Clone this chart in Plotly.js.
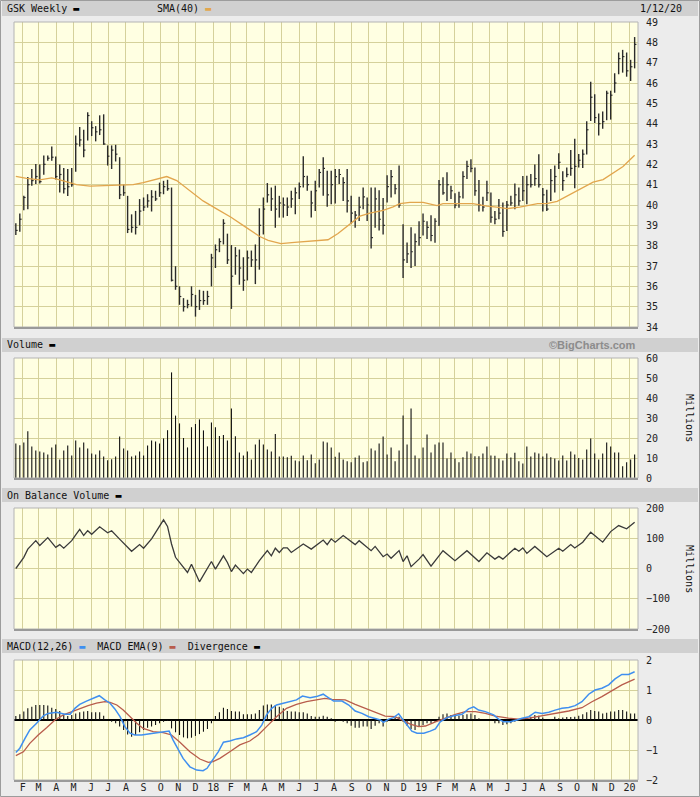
<!DOCTYPE html>
<html><head><meta charset="utf-8">
<script src="https://cdn.plot.ly/plotly-3.0.1.min.js"></script>
<style>html,body{margin:0;padding:0;background:#ececec;}#chart{width:700px;height:797px;}</style>
</head><body><div id="chart"></div>
<script>
// ---- data (weekly bars, Fridays starting 2017-01-20) ----
const firstWeek = '2017-01-20';
const high = [39.10,39.58,40.45,41.38,41.77,42.02,41.99,42.43,42.43,42.88,
42.38,41.99,41.82,41.77,41.82,43.42,43.84,43.70,44.56,44.12,
43.88,44.41,44.46,42.93,42.93,42.96,42.35,41.00,40.45,39.54,
39.71,40.29,40.37,40.53,40.73,40.70,41.10,41.19,41.24,40.86,
36.99,36.00,35.42,35.34,36.00,35.58,35.83,35.78,35.78,37.60,
38.06,38.36,39.30,38.59,38.03,37.93,37.81,37.43,37.76,37.76,
38.06,39.84,40.37,41.08,40.86,40.95,40.45,40.37,40.37,40.70,
40.86,41.11,42.40,41.44,40.70,41.19,41.77,42.35,41.69,41.69,
41.77,41.77,41.36,41.77,40.45,39.71,40.40,40.86,40.37,40.86,
40.86,40.73,40.34,41.46,41.72,41.03,41.94,39.05,38.15,38.90,
38.60,39.20,39.58,39.20,39.50,39.35,41.23,41.36,41.61,40.95,
40.58,40.65,41.66,42.18,42.25,41.85,41.23,40.40,41.19,40.62,
39.71,40.29,40.12,40.20,40.45,41.06,40.86,41.43,41.44,41.52,
41.99,42.50,40.83,40.75,41.77,41.94,42.55,41.66,41.85,42.71,
43.26,42.51,42.73,44.12,46.06,45.45,44.50,44.60,45.62,45.62,
46.48,47.50,47.63,47.50,47.14,48.26];
const low = [38.52,38.69,39.74,39.79,40.95,41.03,41.06,41.49,42.18,42.18,
41.26,40.62,40.57,40.44,40.90,41.64,42.88,42.35,43.17,43.39,
43.13,43.44,42.96,41.94,41.77,42.14,40.29,40.45,38.62,38.64,
38.55,39.00,39.71,39.87,39.68,40.20,40.40,40.53,40.70,36.24,
35.83,35.09,34.76,34.92,35.01,34.51,34.84,35.09,35.09,36.00,
36.90,37.68,38.06,37.10,34.89,36.57,36.08,35.78,36.29,36.95,
36.11,36.82,38.55,40.12,39.71,38.88,39.38,39.38,39.46,39.87,
39.54,40.29,40.86,40.70,39.38,39.71,40.86,40.45,39.91,40.04,
40.07,41.03,40.20,39.63,39.08,38.88,39.21,39.79,39.21,37.86,
38.88,38.75,38.55,40.12,40.37,40.53,39.87,36.41,37.15,36.90,
37.00,38.00,38.50,38.33,38.22,38.14,38.97,40.50,40.20,40.29,
39.84,39.87,40.32,41.28,41.61,40.45,39.68,39.68,40.20,39.13,
39.05,39.30,38.44,38.72,39.96,39.79,39.96,40.20,40.04,40.86,
40.95,40.86,39.68,39.71,40.20,40.62,41.77,40.70,41.36,41.44,
40.82,41.85,41.82,42.48,44.13,44.03,43.42,43.75,44.17,44.20,
45.52,46.43,46.51,46.31,46.10,46.72];
const close = [38.75,39.30,40.37,41.00,41.20,41.40,41.15,42.00,42.30,42.35,
41.40,41.50,40.80,40.90,41.00,43.00,43.20,42.70,44.40,43.80,
43.60,43.70,43.00,42.40,42.70,42.50,40.50,40.60,38.80,38.90,
38.90,39.70,39.90,40.20,40.40,40.30,40.60,40.90,40.80,36.30,
36.00,35.50,35.00,35.10,35.60,35.00,35.30,35.30,35.50,37.40,
37.80,38.20,39.10,37.30,36.50,37.50,36.90,36.30,37.40,37.30,
37.30,39.00,39.80,40.50,40.30,39.80,40.10,40.00,39.90,40.30,
40.60,40.90,41.40,41.00,40.10,40.70,41.60,41.80,40.50,41.00,
41.40,41.50,41.10,40.20,39.60,39.50,39.90,40.40,40.00,38.40,
40.30,39.30,39.00,40.90,41.40,40.80,40.00,37.30,37.60,37.70,
38.20,38.40,39.20,38.90,38.50,39.20,41.00,40.60,41.00,40.70,
40.00,40.40,41.40,41.90,41.80,40.70,40.00,39.90,40.60,39.40,
39.30,39.60,38.70,40.00,40.10,40.50,40.20,40.70,41.00,41.00,
41.30,41.00,40.50,39.80,41.20,41.40,42.10,41.20,41.50,41.80,
41.90,42.20,42.50,43.70,45.30,44.30,44.00,44.10,45.50,45.40,
46.00,47.20,47.30,46.60,46.80,47.90];
const volume = [17.3,16.4,17.8,23.4,15.8,13.8,13.2,12.8,11.8,15.2,
16.8,9.3,13.7,16.2,11.3,18.7,15.2,17.7,14.7,12.3,
11.8,13.7,10.8,8.9,9.4,10.8,20.7,14.7,13.7,10.8,
11.3,13.3,11.3,16.3,18.7,18.2,17.3,19.8,23.9,52.8,
31.2,27.3,20.0,15.3,25.4,27.0,29.3,23.8,15.8,27.8,
25.4,21.0,21.5,18.8,34.8,20.9,12.7,11.3,13.3,9.3,
16.7,19.2,16.8,14.3,13.2,22.0,10.8,10.8,10.4,11.1,
8.7,8.4,11.3,8.9,11.8,7.4,9.3,18.2,17.7,15.2,
10.6,12.7,9.3,8.4,7.9,10.2,11.3,7.9,8.4,14.7,
13.8,17.2,20.7,11.8,15.2,8.4,13.8,31.3,16.8,34.8,
11.3,9.8,15.2,21.7,12.7,16.8,17.7,17.7,9.8,12.7,
9.8,7.9,10.4,13.2,12.2,10.9,10.9,12.2,15.7,11.3,
11.1,9.8,8.8,12.2,10.2,12.6,8.4,7.3,15.7,10.8,
12.7,12.3,10.8,12.2,10.4,9.8,8.8,11.3,8.8,13.2,
11.8,10.0,9.3,14.3,19.7,12.3,9.3,12.2,17.7,15.7,
12.7,12.7,5.9,7.9,9.3,11.8];
const smaWeek = [0,2.7,6,9,11,15.2,18.6,22.7,26.1,29.4,31.9,35.3,37.8,40.3,43.6,46.9,50.4,53.9,57.3,61.1,63.2,66.4,69.8,73.2,78.2,80.7,83.2,86.2,88.7,92,94.5,96.2,98.7,102,105.5,107,111.2,114.5,118,120.5,123,126.2,130.7,133,135.6,138.8,142.1,144.6,147.1,149.6,152.1,155];
const smaValue = [41.41,41.31,41.24,41.33,41.23,41.0,40.93,40.96,41.0,41.0,41.1,41.29,41.4,41.2,40.7,40.2,39.8,39.4,38.95,38.45,38.26,38.1,38.16,38.22,38.29,38.6,39.0,39.45,39.6,39.74,39.91,40.07,40.13,40.13,39.97,40.07,40.07,40.07,39.94,39.9,39.82,39.9,40.07,40.07,40.18,40.51,40.84,41.12,41.25,41.55,41.89,42.45];
const obvWeek = [0,2,3,5,6,8,10,11,12,14,15,16,17,18,19,21,23,24,26,28,29,31,32,34,37,38,39,40,43,44,46,49,50,52,53,54,55,57,58,59,61,63,64,65,66,67,68,69,72,74,77,78,79,80,82,85,86,89,90,92,93,94,96,97,98,99,100,101,102,104,107,110,113,116,118,120,121,122,125,126,127,128,130,133,136,137,139,140,142,144,147,149,151,153,155];
const obvValue = [0,37,64,92,76,102,70,79,67,92,111,129,109,125,113,138,118,125,97,70,57,79,67,98,161,139,81,37,-13,14,-44,23,-2,42,20,-10,11,-17,-2,-13,26,59,42,67,53,68,68,53,81,64,94,79,98,87,109,79,92,59,73,39,48,34,59,23,42,6,17,31,46,8,59,26,59,23,52,31,40,31,67,57,68,50,73,39,67,57,79,68,87,120,87,122,142,131,153];
const macdWeek = [0,1,2.3,3.5,5.2,6.9,8.1,10.2,12.3,13.6,14.8,16,17.7,19.4,20.9,22.3,23.6,24.8,26.1,27.3,28.6,29.8,31.5,33.6,35.7,37.8,38.4,39.4,40.7,41.9,43.6,45.3,46.9,47.9,49,50.7,52,53.6,55.3,57,58.6,60.3,61.6,62.8,64.1,65.3,67,68.7,70.3,71.8,73.7,75.3,77,77.9,79.6,81.7,83.4,85,86.7,88.4,90,91.3,92.1,93.4,94.6,95.9,96.7,98,99.2,100.5,102.2,103.8,105.1,106.3,108,109.7,111.8,113.4,114.7,115.9,117.6,119.7,120.9,122.2,123.9,125.5,126.8,128.5,130.1,131.8,133.5,135.1,136.8,138.5,140.1,141.8,143.5,145.1,146.8,148.5,150.1,151.8,153.5,155];
const macdValue = [-1.08,-0.94,-0.61,-0.33,-0.11,0.14,0.22,0.26,0.19,0.19,0.39,0.52,0.63,0.74,0.81,0.67,0.56,0.37,0.11,-0.22,-0.44,-0.5,-0.5,-0.46,-0.41,-0.37,-0.37,-0.67,-1.0,-1.28,-1.56,-1.67,-1.69,-1.61,-1.39,-1.06,-0.74,-0.7,-0.63,-0.59,-0.5,-0.39,-0.17,0.17,0.39,0.5,0.56,0.61,0.67,0.8,0.74,0.78,0.86,0.78,0.63,0.63,0.5,0.3,0.22,0.11,0.06,0,-0.08,0.03,0.08,0.21,0.06,-0.17,-0.37,-0.44,-0.44,-0.37,-0.3,-0.06,0.08,0.14,0.19,0.37,0.44,0.33,0.28,0.17,0.03,-0.06,-0.06,0,0.06,0.11,0.26,0.22,0.26,0.33,0.39,0.42,0.48,0.61,0.86,1.0,1.06,1.17,1.37,1.52,1.52,1.61];
const signalWeek = [0,1.9,3.5,5.6,7.7,9.8,11.9,14,16,18.1,20.2,22.3,23.6,25.3,26.9,28.6,30.3,31.9,34.4,36.9,39,41.1,43.6,46.1,48.2,49.4,51.1,53.6,56.1,58.6,60.7,62.8,65.3,67.8,70.3,72.8,75.3,77.4,79.2,82.5,85,87.5,90,92.5,95,96.7,98.8,100.9,102.6,105.1,107.6,110.1,112.6,115.1,117.6,120.1,123.4,125.9,128.5,131.8,135.1,138.5,141.8,144.3,146.8,149.2,151.8,155];
const signalValue = [-1.19,-1.06,-0.78,-0.5,-0.26,0,0.17,0.28,0.37,0.48,0.56,0.61,0.59,0.5,0.33,0.11,-0.11,-0.28,-0.39,-0.42,-0.5,-0.74,-1.06,-1.3,-1.41,-1.39,-1.28,-1.06,-0.83,-0.7,-0.5,-0.22,0.11,0.39,0.52,0.61,0.67,0.72,0.69,0.67,0.52,0.39,0.26,0.13,0.11,0,-0.14,-0.22,-0.2,-0.06,0.06,0.19,0.28,0.28,0.22,0.13,0.06,0.03,0.06,0.14,0.22,0.3,0.41,0.61,0.78,0.97,1.17,1.36];
const divergence = [0.13,0.19,0.28,0.39,0.44,0.5,0.5,0.5,0.48,0.41,
0.37,0.3,0.17,0.13,0.17,0.22,0.26,0.28,0.3,0.26,
0.26,0.26,0.14,0,-0.06,-0.11,-0.22,-0.33,-0.48,-0.56,
-0.5,-0.41,-0.33,-0.26,-0.22,-0.17,-0.11,-0.06,-0.03,-0.28,
-0.41,-0.5,-0.58,-0.61,-0.59,-0.53,-0.47,-0.39,-0.3,-0.11,
0.13,0.26,0.41,0.37,0.3,0.28,0.28,0.19,0.19,0.19,
0.22,0.33,0.48,0.52,0.52,0.5,0.44,0.39,0.3,0.28,
0.28,0.26,0.26,0.22,0.13,0.11,0.11,0.14,0.11,0.06,
-0.06,-0.03,-0.06,-0.11,-0.19,-0.26,-0.26,-0.22,-0.22,-0.3,
-0.19,-0.11,-0.22,-0.06,0,0.08,0.11,-0.06,-0.19,-0.3,
-0.33,-0.22,-0.17,-0.11,-0.11,-0.06,0.11,0.19,0.22,0.17,
0.14,0.14,0.17,0.19,0.22,0.17,0.06,0,0,-0.03,
-0.11,-0.11,-0.17,-0.14,-0.11,-0.06,-0.03,0.03,0.08,0.11,
0.17,0.14,0.08,0,0.03,0.11,0.06,0.08,0.1,0.1,
0.11,0.14,0.19,0.26,0.33,0.3,0.28,0.22,0.24,0.28,
0.28,0.33,0.33,0.28,0.22,0.22];
const monthLabels = ['F','M','A','M','J','J','A','S','O','N','D','18','F','M','A','M','J','J','A','S','O','N','D','19','F','M','A','M','J','J','A','S','O','N','D','20'];
const firstMonth = [2017, 1];

// ---- helpers ----
const T0 = Date.parse(firstWeek + 'T00:00:00Z');
const DAY = 864e5;
function wk(k){ return new Date(T0 + k*7*DAY).toISOString().slice(0,19).replace('T',' '); }
const dates = high.map((_, k) => wk(k));
const monthTicks = monthLabels.map((_, i) => new Date(Date.UTC(firstMonth[0], firstMonth[1] + i, 1)).toISOString().slice(0,10));

// price bars (high-low stems + close ticks)
const barX = [], barY = [], tickX = [], tickY = [];
high.forEach((h, k) => {
  barX.push(dates[k], dates[k], null); barY.push(low[k], h, null);
  tickX.push(dates[k], wk(k + 0.45), null); tickY.push(close[k], close[k], null);
});
// thin stems from zero for volume and divergence histograms
function stems(vals){
  const x = [], y = [];
  vals.forEach((v, k) => { x.push(dates[k], dates[k], null); y.push(0, v, null); });
  return {x, y};
}
const volStems = stems(volume), divStems = stems(divergence);

const BAR_INK = '#2b2b2b';
const traces = [
  {type:'scatter', mode:'lines', x:barX, y:barY, line:{color:BAR_INK, width:1.4}, xaxis:'x', yaxis:'y', hoverinfo:'skip'},
  {type:'scatter', mode:'lines', x:tickX, y:tickY, line:{color:BAR_INK, width:1.2}, xaxis:'x', yaxis:'y', hoverinfo:'skip'},
  {type:'scatter', mode:'lines', x:smaWeek.map(wk), y:smaValue, line:{color:'#e2a64e', width:1.3}, xaxis:'x', yaxis:'y'},
  {type:'scatter', mode:'lines', x:volStems.x, y:volStems.y, line:{color:'#111', width:1.1}, xaxis:'x', yaxis:'y2'},
  {type:'scatter', mode:'lines', x:obvWeek.map(wk), y:obvValue, line:{color:'#3a3a3a', width:1.3}, xaxis:'x', yaxis:'y3'},
  {type:'scatter', mode:'lines', x:divStems.x, y:divStems.y, line:{color:'#111', width:1.1}, xaxis:'x', yaxis:'y4'},
  {type:'scatter', mode:'lines', x:signalWeek.map(wk), y:signalValue, line:{color:'#b85c4c', width:1.3}, xaxis:'x', yaxis:'y4'},
  {type:'scatter', mode:'lines', x:macdWeek.map(wk), y:macdValue, line:{color:'#3f8ff0', width:1.5}, xaxis:'x', yaxis:'y4'}
];

// pixel -> paper helpers (plot area x 14..638, y 22..780)
const L = 14, R = 638, T = 22, B = 780;
const PX = x => (x - L) / (R - L);
const PY = y => (B - y) / (B - T);
const dom = (top, bot) => [PY(bot), PY(top)];

const GRID = '#d5d19b';
const FONT = 'DejaVu Sans Mono';
const yBase = {side:'right', showgrid:true, gridcolor:GRID, gridwidth:1, zeroline:false, ticks:'outside', ticklen:5, tickcolor:'rgba(0,0,0,0)', tickfont:{family:FONT, size:10, color:'#222'}, fixedrange:true, showline:false};

const panels = [[22,327],[358,478],[508,629],[660,780]];
const headers = [[1,16],[338,352],[488,502],[639,653]];
const shapes = [];
headers.forEach(([a,b]) => shapes.push({type:'rect', xref:'paper', yref:'paper', x0:PX(2), x1:PX(698), y0:PY(b), y1:PY(a), fillcolor:'#d0d0d0', line:{width:0}, layer:'below'}));
panels.forEach(([a,b]) => {
  shapes.push({type:'rect', xref:'paper', yref:'paper', x0:0, x1:1, y0:PY(b), y1:PY(a), fillcolor:'rgba(0,0,0,0)', line:{color:'#b4b4b4', width:1}});
  shapes.push({type:'line', xref:'paper', yref:'paper', x0:0, x1:1, y0:PY(b+1), y1:PY(b+1), line:{color:'#9a9a9a', width:2}});
});
shapes.push({type:'rect', xref:'paper', yref:'paper', x0:PX(0.5), x1:PX(699.5), y0:PY(796.5), y1:PY(0.5), line:{color:'#9c9c9c', width:1}, fillcolor:'rgba(0,0,0,0)', layer:'below'});

const ann = (x, y, text, extra) => Object.assign({xref:'paper', yref:'paper', x:PX(x), y:PY(y), xanchor:'left', yanchor:'middle', text, showarrow:false, font:{family:FONT, size:10, color:'#111'}}, extra || {});
const annotations = [
  ann(5, 8.5, 'GSK Weekly <span style="color:#000">▬</span>'),
  ann(155, 8.5, 'SMA(40) <span style="color:#e2a64e">▬</span>'),
  ann(638, 8.5, '1/12/20'),
  ann(5, 345, 'Volume <span style="color:#000">▬</span>'),
  ann(638, 345, '<b>©BigCharts.com</b>', {xanchor:'right', font:{family:'Liberation Sans', size:11, color:'#8c8c8c'}}),
  ann(5, 495, 'On Balance Volume <span style="color:#000">▬</span>'),
  ann(5, 646, 'MACD(12,26) <span style="color:#3f8ff0">▬</span>  MACD EMA(9) <span style="color:#b85c4c">▬</span>  Divergence <span style="color:#000">▬</span>'),
  ann(690, 418, 'Millions', {xanchor:'center', textangle:90}),
  ann(690, 569, 'Millions', {xanchor:'center', textangle:90})
];

const layout = {
  width:700, height:797,
  margin:{l:L, r:700-R, t:T, b:797-B, pad:0},
  paper_bgcolor:'#ececec', plot_bgcolor:'#ffffe2',
  showlegend:false, hovermode:false,
  font:{family:FONT, size:10, color:'#222'},
  xaxis:{type:'date', range:['2017-01-16 19:00:00','2020-01-15 22:00:00'], tickmode:'array', tickvals:monthTicks, ticktext:monthLabels,
         showgrid:true, gridcolor:GRID, gridwidth:1, zeroline:false, showline:false, ticks:'', anchor:'y4',
         tickfont:{family:FONT, size:10, color:'#222'}, fixedrange:true},
  yaxis:Object.assign({}, yBase, {domain:dom(22,327), range:[34,49], dtick:1}),
  yaxis2:Object.assign({}, yBase, {domain:dom(358,478), range:[0,60], dtick:10}),
  yaxis3:Object.assign({}, yBase, {domain:dom(508,629), range:[-200,200], dtick:100}),
  yaxis4:Object.assign({}, yBase, {domain:dom(660,780), range:[-2,2], dtick:1, zeroline:true, zerolinecolor:'#000', zerolinewidth:1.5}),
  shapes, annotations
};

Plotly.newPlot('chart', traces, layout, {displayModeBar:false, staticPlot:true});
</script>
</body></html>
